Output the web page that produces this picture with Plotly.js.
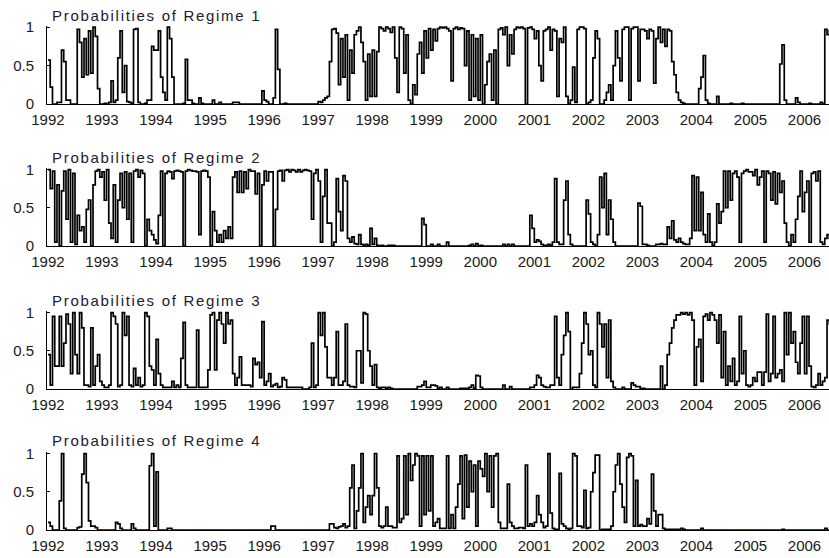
<!DOCTYPE html>
<html><head><meta charset="utf-8">
<script src="https://cdn.plot.ly/plotly-3.0.1.min.js"></script>
<style>
html,body{margin:0;padding:0;background:#fff;}
#chart{width:829px;height:558px;}
.annotation-text{letter-spacing:1.7px;}
</style></head><body><div id="chart"></div>
<script>
// one row per year, 24 half-month observations per row (2006 partial)
const years = [1992,1993,1994,1995,1996,1997,1998,1999,2000,2001,2002,2003,2004,2005,2006];
const tickLabels = ['1992','1993','1994','1995','1996','1997','1998','1999','2000','2001','2002','2003','2004','2005','2006'];
const titles = ['Probabilities of Regime 1','Probabilities of Regime 2','Probabilities of Regime 3','Probabilities of Regime 4'];

const regime1 = [
 [0.57,0.22,0,0,0.02,0.02,0.7,0.55,0.05,0.05,0,0,0,0.97,0.8,0.35,0.85,0.38,0.95,0.4,1.0,0.88,0.2,0],
 [0,0.01,0,0.02,0.3,0.02,0.05,0.6,0.95,0.15,0.5,0.03,0.02,0.01,0.97,0.98,0.02,0,0,0.01,0.05,0.05,0.75,0.7],
 [0.7,0.95,0.35,0.15,0.05,1.0,0.85,0.35,0,0,0,0,0.01,0.58,0.05,0.05,0.01,0,0,0.08,0.01,0,0,0],
 [0,0.05,0,0,0.02,0,0,0,0,0,0.02,0.02,0.02,0,0,0,0,0,0,0,0,0,0,0.17],
 [0.05,0.03,0,0,0.08,0.97,0.45,0,0,0.01,0,0,0,0,0,0,0,0,0,0,0,0,0,0],
 [0.03,0.02,0.05,0.08,0.1,0.55,0.97,0.98,0.92,0.25,0.85,0.35,0.9,0.05,0.7,0.4,0.9,0.95,1.0,0.8,0.55,0.05,0.65,0.1],
 [0.7,0.1,0.68,1.0,0.98,0.95,1.0,0.98,0.93,1.0,0.6,0.15,1.0,0.98,0.4,0.9,0.05,0,0.25,0.12,0.65,0.8,0.4,0.95],
 [0.6,0.98,0.7,0.97,0.82,0.98,1.0,0.99,1.0,0.98,0.95,0.3,0.98,1.0,0.97,0.99,0.98,0.5,0.95,0.05,0.9,0.1,0.85,0.05],
 [0.9,0,0.25,0.55,0.65,0.05,0.7,0,0.97,0.99,0.9,1.0,0.5,0.9,0.65,0.97,1.0,0.99,1.0,0.98,0,0.99,1.0,0.97],
 [0.85,0.95,0.5,0.3,0.95,0.97,1.0,0.7,0.97,0.95,0.1,0.85,0.8,1.0,0.1,0,0.05,0.48,0.02,0.97,1.0,1.0,0.98,0],
 [0.02,0.05,0.6,0.95,0.85,0,0,0.05,0.15,0.25,0.05,0.5,0.95,0.6,0.3,0.97,1.0,1.0,0.05,0.98,1.0,1.0,0.3,0.97],
 [0.97,0.95,0.85,0.97,0.95,0.27,0.85,1.0,0.8,0.97,0.75,0.97,0.95,0.55,0.38,0.15,0.05,0.02,0.01,0,0,0,0,0],
 [0,0.2,0.35,0.63,0.05,0.01,0,0,0,0.1,0,0,0,0,0,0.01,0,0,0,0,0.01,0,0,0],
 [0,0,0,0,0,0,0,0,0,0,0,0,0,0.52,0.77,0.05,0,0,0,0,0.08,0.02,0,0],
 [0,0,0.01,0,0,0,0,0.02,0,0.97,0.9,0.95,0.97]
];

const regime2 = [
 [1.0,0.75,0.98,0.05,0.8,0,0.72,0.98,0.35,1.0,0.05,0.95,0.02,0.4,0.2,0.25,0.05,0.48,0.6,0,0.8,0.98,1.0,0.9],
 [0.97,0.6,1.0,0.3,0.1,0.8,0.05,0.6,0.95,0.5,0.97,0.35,0.95,0.05,0.98,1.0,0.9,0.99,0.95,0,0.35,0.2,0.15,0.08],
 [0.03,0.4,0.98,0,0.95,0.98,0.97,0.88,0.98,0.99,0.98,0.97,0,0.98,1.0,0.99,0.98,0.98,0.97,0.15,0.98,0.99,0.98,0.9],
 [0,0.45,0.2,0.05,0.15,0.05,0.2,0.1,0.25,0.1,0.9,0.97,0.7,0.98,0.7,0.97,0.75,1.0,0.98,0.98,0.68,0.95,0,0.8],
 [0.98,0.85,0.97,0.97,0,0.48,0.98,0.99,0.85,0.99,1.0,0.97,1.0,0.99,0.97,1.0,0.97,0.99,1.0,0.99,0.98,0.35,0.95,1.0],
 [0.85,0.05,0.65,1.0,0.3,0.3,0,0.05,0.88,0.45,0.2,0.92,0.85,0.1,0.05,0.12,0.03,0.02,0.15,0.02,0.01,0.02,0.01,0.23],
 [0.02,0.1,0.01,0,0.01,0,0,0.01,0.01,0.01,0,0,0,0,0,0,0,0,0,0,0,0,0.36,0.28],
 [0,0,0.02,0,0,0.02,0,0,0,0.05,0,0,0,0,0,0,0,0,0,0.01,0.02,0,0.03,0],
 [0.01,0,0,0,0,0,0,0,0,0,0.02,0,0.02,0,0.02,0,0,0,0,0,0,0,0.4,0.23],
 [0.05,0.08,0.06,0.02,0.01,0.01,0.02,0.01,0.05,0.88,0.05,0.02,0.02,0.6,0.85,0.15,0.02,0,0,0,0,0,0,0.6],
 [0.42,0.05,0.02,0,0.15,0.9,0.5,0.95,0.15,0.6,0.35,0.05,0,0,0,0,0,0,0,0,0,0,0.56,0.52],
 [0.02,0.02,0.01,0,0,0,0.02,0.02,0.03,0.02,0.02,0.25,0.1,0.33,0.08,0.05,0.1,0.05,0.03,0.02,0.02,0.1,0.92,0.2],
 [0.9,0.2,0.7,0.15,0.05,0.42,0.05,0.01,0.05,0.55,0.3,0.45,0.98,0.5,0.98,0.6,0.95,0.98,0.9,0.05,0.95,0.98,1.0,0.97],
 [0.97,0.92,1.0,0.8,0.9,0.98,0.05,0.98,0.95,0.6,0.97,0.55,0.95,0.7,0.85,0.3,0.05,0,0.15,0.05,0.35,0.65,0.98,0.45],
 [0.7,0.85,0.05,0.95,0.97,0.85,0.98,0.05,0.02,0.1,0.15,0.1,0.1]
];

const regime3 = [
 [0.45,0.05,0.95,0.3,0.3,0.95,0.3,0.6,0.98,0.85,0.2,1.0,0.45,0.2,1.0,0.8,0.05,0.05,0.03,0.8,0.05,0.3,0.45,0.1],
 [0.05,0.02,0.02,0.05,1.0,0.95,0.85,0.03,0.05,1.0,0.7,0.95,0.05,0.03,0.27,0.05,0.15,0.03,0.05,1.0,0.95,0.3,0.25,0.05],
 [0.65,0.2,0.05,0.02,0.02,0.02,0.02,0.1,0.02,0.05,0.02,0.4,0.87,0.05,0.02,0.02,0.02,0.02,0.77,0.02,0.02,0.02,0.02,0.25],
 [0.97,1.0,0.25,0.9,1.0,0.85,0.6,1.0,0.85,0.9,0.2,0.05,0.15,0.42,0.05,0.05,0.05,0.05,0.03,0.4,0.32,0.35,0.15,0.88],
 [0.05,0.1,0.2,0.03,0.05,0.07,0.02,0.03,0.15,0.12,0.02,0.02,0.02,0.02,0.02,0.02,0.02,0,0,0,0.02,0.6,0.02,0.05],
 [1.0,0.7,1.0,0.55,0.15,0.15,0.05,0.15,0.75,0.05,0.05,0.1,0.85,0.05,0.03,0.03,0.02,0.5,0.5,0.08,1.0,0.98,0.5,0.3],
 [0.05,0.32,0.02,0.01,0.02,0.02,0.01,0.02,0.01,0,0,0,0,0,0,0,0,0,0,0,0.03,0.03,0.05,0.1],
 [0.02,0.02,0.05,0.05,0.04,0.01,0.02,0,0,0.02,0,0,0,0,0,0.01,0.01,0.01,0.01,0.02,0.05,0.01,0.18,0.17],
 [0.02,0,0,0,0,0,0,0,0,0,0.05,0,0,0.03,0,0,0,0,0,0,0,0,0.02,0.02],
 [0.05,0.18,0.15,0.05,0.03,0.02,0.02,0.05,0.05,0.95,0.15,0.05,0.45,0.7,1.0,0.75,0,0.02,0.02,0.02,0.2,0.6,1.0,0.85],
 [0.45,0.5,0.05,0.02,1.0,0.85,0.55,0.85,0.15,0.9,0.1,0.02,0,0,0,0.02,0,0,0,0.08,0.05,0.03,0.03,0.01],
 [0.01,0,0,0,0,0,0,0,0.3,0,0.05,0.45,0.6,0.8,0.9,0.97,0.97,1.0,0.98,1.0,0.97,1.0,0.9,0.05],
 [0.55,0.65,0.1,0.95,0.98,0.9,1.0,0.97,0.9,0.6,0.97,0.15,0.75,0.05,0.3,0.1,0.4,0.05,0.1,0.95,0.2,0.5,0.05,0.03],
 [0.05,0.15,0.1,0.22,0.22,0.05,0.22,0.98,0.1,0.2,0.95,0.15,0.2,0.25,0.1,1.0,0.45,1.0,0.6,0.75,0.35,0.2,0.6,0.95],
 [0.2,0.95,0.3,0.03,0.02,0.05,0.2,0.05,0.1,0.15,0.9,0.85,0.9]
];

const regime4 = [
 [0.1,0.05,0,0,0,0.38,1.0,0.02,0,0,0,0,0,0.03,0.04,0.73,1.0,0.62,0.12,0.05,0.05,0.03,0,0],
 [0,0,0,0,0,0,0.1,0.08,0.02,0,0,0,0,0.08,0.02,0,0,0,0,0,0,0.84,1.0,0.05],
 [0.76,0,0,0,0,0.02,0.02,0,0,0,0,0,0,0,0,0,0,0,0,0,0,0,0,0],
 [0,0,0,0,0,0,0,0,0,0,0,0,0,0,0,0,0,0,0,0,0,0,0,0],
 [0,0,0,0.05,0.05,0,0,0,0,0,0,0,0,0,0,0,0,0,0,0,0,0,0,0],
 [0,0,0,0,0,0.08,0.08,0.03,0.02,0.04,0.05,0.08,0.03,0.05,0.55,0.85,0.02,0.25,0.55,1.0,0.1,0.3,0.45,0.2],
 [0.45,1.0,0.55,0.05,0.03,0.05,0.3,0.05,0.05,0.03,0.03,0.97,0.1,0.15,0.97,0.2,1.0,0.65,0.85,1.0,0.97,0.05,0.97,0.2],
 [0.97,0.25,0.97,0.05,0.1,0.15,0.02,0.02,0.02,0.97,0.02,0.2,0.02,0.3,0.6,0.97,0.15,0.98,0.3,0.9,0.5,0.85,0.05,0.9],
 [0.8,0.7,1.0,0.5,0.97,0.3,0.97,1.0,0.1,0.02,0.02,0.02,0.6,0.1,0.05,0.02,0.02,0.03,0.03,0.02,0.85,0.05,0.08,0.05],
 [0.1,0.45,0.2,0.1,0.03,0.05,1.0,0.22,0.02,0.01,0.01,0.74,0.08,0.05,0.02,0.01,0.02,1.0,0.97,0.05,0.05,0.03,0.52,0.02],
 [0.03,0.5,0.75,0.98,0.98,0,0.01,0.01,0.01,0.01,0.05,0.5,0.85,1.0,0.6,0.3,0.1,0.95,1.0,0.97,0.05,0.65,0.05,0.07],
 [0.05,0.05,0.15,0.08,0.73,0.25,0.05,0.2,0.2,0.02,0.01,0.01,0.01,0.01,0.01,0.01,0.01,0.02,0.01,0,0,0,0,0],
 [0,0,0.02,0,0,0,0,0,0,0,0,0,0,0,0,0,0,0,0,0,0,0,0,0],
 [0,0,0,0,0,0,0,0,0,0,0,0,0,0,0.01,0,0,0,0,0,0,0,0,0],
 [0,0,0,0,0,0,0,0,0,0.02,0,0,0]
];

const series = [regime1, regime2, regime3, regime4];

function toXY(rows){
  const x = [], y = [];
  rows.forEach((row, yi) => row.forEach((v, k) => { x.push(years[yi] + k / 24); y.push(v); }));
  return {x, y};
}

const font = {family: 'Liberation Sans, Arial, sans-serif', size: 15, color: '#1a1a1a'};
const domains = [[0.84356, 0.999], [0.56238, 0.71683], [0.27921, 0.43366], [0, 0.15446]];
const titleY = [1.0190, 0.7386, 0.4554, 0.1782];

const traces = [];
const layout = {
  width: 829, height: 558,
  margin: {l: 47, r: 0, t: 25, b: 28},
  paper_bgcolor: '#fff', plot_bgcolor: '#fff',
  showlegend: false,
  annotations: []
};

series.forEach((rows, i) => {
  const d = toXY(rows);
  const n = i === 0 ? '' : String(i + 1);
  traces.push({
    x: d.x, y: d.y, type: 'scatter', mode: 'lines',
    xaxis: 'x' + n, yaxis: 'y' + n,
    line: {color: '#000', width: 1.7, shape: 'hv'},
    hoverinfo: 'skip'
  });
  layout['xaxis' + n] = {
    domain: [0, 1], anchor: 'y' + n,
    range: [1991.982, 2006.453],
    tickmode: 'array', tickvals: years, ticktext: tickLabels,
    showline: true, linecolor: '#000', linewidth: 1.2,
    ticks: '', showgrid: false, zeroline: false,
    tickfont: font, ticklabelstandoff: 2, fixedrange: true
  };
  layout['yaxis' + n] = {
    domain: domains[i], anchor: 'x' + n,
    range: [0, 1.02],
    tickmode: 'array', tickvals: [0, 0.5, 1], ticktext: ['0', '0.5', '1'],
    showline: true, linecolor: '#000', linewidth: 1,
    ticks: 'inside', ticklen: 3, tickcolor: '#000',
    showgrid: false, zeroline: false,
    tickfont: font, ticklabelstandoff: 9, fixedrange: true
  };
  layout.annotations.push({
    xref: 'paper', yref: 'paper', x: 0.0038, y: titleY[i],
    xanchor: 'left', yanchor: 'middle', showarrow: false,
    text: titles[i],
    font: {family: 'Liberation Sans, Arial, sans-serif', size: 15, color: '#20202e'}
  });
});

Plotly.newPlot('chart', traces, layout, {displayModeBar: false, staticPlot: true});
</script></body></html>
